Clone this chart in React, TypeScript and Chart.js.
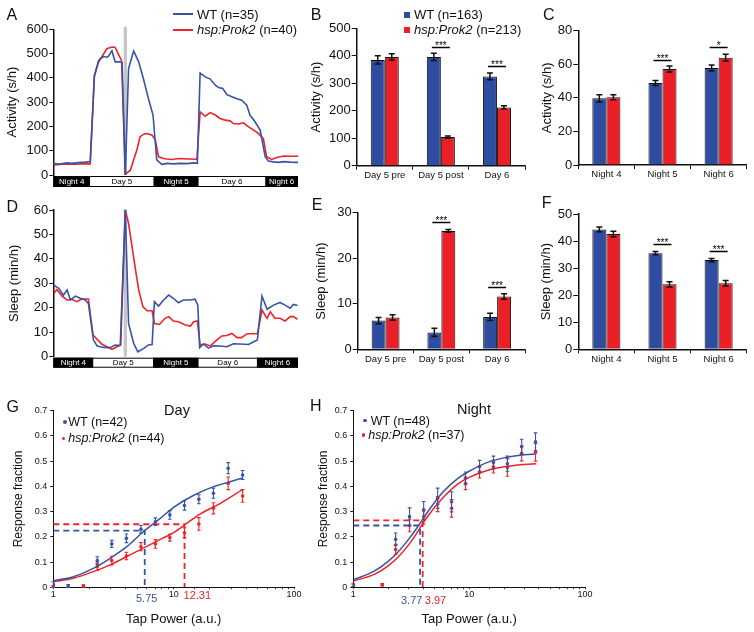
import React, { useEffect, useRef } from 'react';
import { Chart, registerables } from 'chart.js';
Chart.register(...registerables);

const FONT = '"Liberation Sans", Arial, Helvetica, sans-serif';
const BAR_BLUE = '#2F4DA0';
const BAR_RED = '#EA1F27';
const LBLUE = '#3654A6';
const LRED = '#EE2228';
const INK = '#111111';

// ---------------- Panel A: activity trace (x in hours)
const PHASE_NAMES = ['Night 4', 'Day 5', 'Night 5', 'Day 6', 'Night 6'];
const PHASE_DARK = [true, false, true, false, true];
const A_PHASE_EDGES = [0, 8, 21.7, 31.5, 45.9, 53];
const D_PHASE_EDGES = [0, 8.7, 21.6, 31.5, 44.1, 53];
const HEAT_SHOCK = [15.25, 15.95];

const A_WT_T = [0, 1, 2, 3, 4, 5, 6, 7, 8, 8.9, 9.8, 10.2, 10.9, 11.6, 12.0, 12.7, 13.4, 14.4, 14.9, 15.6, 16.3, 17.4, 18.5, 19.6, 20.6, 21.6, 22.4, 23.5, 24.6, 26.0, 27.5, 28.9, 30.4, 31.2, 31.8, 32.9, 34.0, 35.1, 35.8, 36.7, 37.6, 38.7, 39.8, 40.8, 41.9, 42.6, 43.7, 44.8, 45.9, 46.6, 47.7, 48.8, 49.9, 51.3, 53];
const A_WT_V = [48, 45, 47, 50, 48, 50, 52, 53, 55, 410, 470, 480, 488, 485, 490, 512, 466, 466, 462, 0, 438, 511, 466, 390, 315, 247, 62, 44, 48, 46, 48, 47, 50, 48, 420, 404, 395, 370, 360, 356, 331, 322, 314, 308, 288, 247, 219, 185, 75, 58, 54, 52, 55, 53, 52];
const A_HSP_T = [0, 1, 2, 3, 4, 5, 6, 7, 8, 8.9, 9.8, 10.5, 11.6, 12.7, 13.4, 14.1, 14.8, 15.6, 15.8, 16.7, 17.4, 18.1, 18.8, 19.6, 20.3, 21.4, 22.1, 22.8, 23.9, 24.6, 25.7, 26.8, 27.8, 28.9, 30.0, 31.1, 31.8, 32.9, 34.0, 35.1, 36.1, 37.2, 38.3, 39.0, 40.1, 41.2, 42.3, 43.4, 44.4, 45.5, 46.2, 47.3, 48.4, 49.9, 51.3, 53];
const A_HSP_V = [41, 42, 45, 44, 46, 44, 46, 46, 46, 407, 465, 486, 520, 527, 525, 498, 470, 0, 7, 20, 62, 103, 158, 168, 171, 164, 144, 75, 68, 66, 64, 67, 68, 66, 66, 64, 260, 242, 257, 247, 233, 226, 223, 212, 210, 215, 198, 185, 171, 150, 75, 64, 72, 78, 77, 77];

// ---------------- Panel D: sleep trace
const D_WT_T = [0.1, 1.2, 2.2, 3.0, 3.7, 4.8, 5.8, 6.9, 7.6, 8.7, 9.5, 10.9, 12.3, 13.4, 14.5, 15.6, 16.3, 17.4, 18.3, 19.6, 20.6, 21.4, 21.9, 22.8, 23.9, 25.0, 26.0, 27.1, 28.2, 29.7, 30.7, 31.3, 31.7, 32.5, 33.6, 34.7, 36.1, 37.6, 39.0, 40.5, 42.3, 43.4, 44.2, 45.2, 46.3, 47.7, 49.1, 50.2, 51.3, 52.0, 52.9];
const D_WT_V = [29.3, 28, 25.2, 27.3, 23.2, 24.8, 23.9, 23.2, 21.8, 6.8, 4.4, 3.8, 3.7, 4.8, 4.6, 60, 13.6, 5.5, 2, 3.4, 4.8, 5, 22.5, 20.7, 23.2, 25.2, 23.9, 22.1, 23.2, 23.2, 23.5, 21.1, 3.7, 5.2, 3.5, 4.5, 4.4, 4.1, 5.3, 5.2, 5, 6.1, 6.8, 24.8, 19.4, 21.1, 22.2, 21.1, 19.8, 21.4, 20.9];
const D_HSP_T = [0.1, 0.8, 1.9, 3.0, 4.0, 5.1, 6.2, 7.6, 8.6, 9.5, 10.5, 11.6, 12.7, 13.8, 14.6, 15.6, 16.3, 17.0, 17.7, 18.5, 19.4, 20.3, 21.4, 21.9, 23.0, 24.2, 25.0, 26.0, 27.1, 28.6, 29.7, 30.4, 31.2, 31.8, 32.9, 34.0, 35.4, 36.5, 37.6, 38.7, 39.8, 40.8, 41.9, 43.4, 44.2, 45.2, 46.3, 47.0, 48.0, 49.1, 50.2, 51.3, 52.0, 52.9];
const D_HSP_V = [25.9, 27.5, 24.8, 23.2, 23.5, 22.5, 23.6, 23.6, 8.9, 7.1, 5.2, 4.1, 3, 4.1, 4.8, 60, 54.5, 45.7, 36.8, 27.3, 20.5, 18.8, 18.8, 13.6, 13.2, 15.7, 16.4, 14.6, 14.3, 13, 12.5, 14.3, 14.6, 4.8, 5.2, 4.4, 6.8, 8.5, 8.7, 9.5, 7.8, 7.8, 9.3, 9.5, 9.3, 19.1, 15.7, 18.4, 15.7, 15.7, 14.6, 16.4, 16.4, 15.3];

// ---------------- Bar panels
const DAY_CATS = ['Day 5 pre', 'Day 5 post', 'Day 6'];
const NIGHT_CATS = ['Night 4', 'Night 5', 'Night 6'];

const B_WT = [385, 396, 325];
const B_WT_ERR = [15, 13, 12];
const B_HSP = [396, 104, 212];
const B_HSP_ERR = [11, 4, 6];
const B_SIG_AT = [1, 2];
const B_SIG_LEVEL = [433, 364];
const B_SIG_MARK = ['***', '***'];

const C_WT = [39.7, 48.8, 57.8];
const C_WT_ERR = [2.2, 1.5, 1.8];
const C_HSP = [40.3, 57.2, 63.9];
const C_HSP_ERR = [1.5, 1.8, 2.0];
const C_SIG_AT = [1, 2];
const C_SIG_LEVEL = [62.5, 70];
const C_SIG_MARK = ['***', '*'];

const E_WT = [6.3, 3.7, 7.1];
const E_WT_ERR = [0.7, 0.9, 0.8];
const E_HSP = [7.0, 26.0, 11.6];
const E_HSP_ERR = [0.6, 0.3, 0.6];
const E_SIG_AT = [1, 2];
const E_SIG_LEVEL = [27.9, 13.6];
const E_SIG_MARK = ['***', '***'];

const F_WT = [44.3, 35.5, 33.0];
const F_WT_ERR = [0.9, 0.6, 0.6];
const F_HSP = [42.6, 24.0, 24.4];
const F_HSP_ERR = [1.0, 1.0, 1.0];
const F_SIG_AT = [1, 2];
const F_SIG_LEVEL = [38.9, 36.3];
const F_SIG_MARK = ['***', '***'];

// ---------------- Dose-response panels (tap power, a.u.)
const TAP = [1, 1.33, 1.78, 2.32, 3.06, 4.05, 5.35, 7.05, 9.3, 12.3, 16.2, 21.4, 28.4, 37.4];

const G_WT = [0.012, 0.005, null, 0.106, 0.172, 0.194, 0.23, 0.26, 0.287, 0.324, 0.349, 0.373, 0.472, 0.445];
const G_WT_ERR = [0.01, 0.006, null, 0.015, 0.014, 0.017, 0.015, 0.015, 0.017, 0.018, 0.018, 0.02, 0.022, 0.018];
const G_HSP = [0.003, null, 0.005, 0.082, 0.106, 0.124, 0.161, 0.172, 0.197, 0.216, 0.251, 0.313, 0.412, 0.362];
const G_HSP_ERR = [0.004, null, 0.005, 0.015, 0.017, 0.015, 0.016, 0.017, 0.014, 0.02, 0.025, 0.022, 0.025, 0.025];
const G_WT_FIT_X = [1, 1.47, 2.15, 2.97, 4.08, 5.62, 7.74, 10, 14.7, 21.5, 37];
const G_WT_FIT_Y = [0.026, 0.042, 0.075, 0.115, 0.161, 0.221, 0.273, 0.317, 0.365, 0.399, 0.432];
const G_HSP_FIT_X = [1, 1.47, 2.15, 2.97, 4.08, 5.62, 7.74, 10, 12.9, 16.7, 24.5, 37];
const G_HSP_FIT_Y = [0.022, 0.036, 0.062, 0.089, 0.122, 0.155, 0.19, 0.217, 0.254, 0.291, 0.333, 0.386];
const G_EC = [5.75, 12.31];
const G_EC_LEVEL = [0.225, 0.25];

const H_WT = [0.008, null, null, 0.19, 0.28, 0.305, 0.353, 0.339, 0.432, 0.478, 0.495, 0.49, 0.557, 0.577];
const H_WT_ERR = [0.005, null, null, 0.025, 0.035, 0.035, 0.04, 0.04, 0.025, 0.025, 0.025, 0.03, 0.03, 0.035];
const H_HSP = [0.009, null, 0.01, 0.15, 0.245, 0.28, 0.33, 0.313, 0.412, 0.458, 0.478, 0.475, 0.531, 0.535];
const H_HSP_ERR = [0.005, null, 0.005, 0.02, 0.025, 0.03, 0.03, 0.035, 0.025, 0.025, 0.025, 0.035, 0.03, 0.035];
const H_FIT_X = [1, 1.5, 2, 2.5, 3, 3.5, 4, 5, 6, 8, 10, 15, 20, 30, 38];
const H_WT_FIT_Y = [0.03, 0.063, 0.103, 0.146, 0.19, 0.232, 0.272, 0.335, 0.38, 0.432, 0.46, 0.498, 0.513, 0.525, 0.529];
const H_HSP_FIT_Y = [0.025, 0.05, 0.085, 0.125, 0.168, 0.212, 0.255, 0.315, 0.357, 0.41, 0.436, 0.466, 0.478, 0.487, 0.49];
const H_EC = [3.77, 3.97];
const H_EC_LEVEL = [0.245, 0.265];

// ---------------- layout boxes (canvas box + desired plot area, page px)
type Box = { x0: number; y0: number; x1: number; y1: number; L: number; T: number; R: number; B: number };
const BOX_A: Box = { x0: 5, y0: 15, x1: 303, y1: 192, L: 53.3, T: 29.3, R: 298, B: 175 };
const BOX_D: Box = { x0: 7, y0: 196, x1: 303, y1: 372, L: 53.3, T: 210, R: 298, B: 356.7 };
const BOX_B: Box = { x0: 309, y0: 14, x1: 530, y1: 182, L: 356.7, T: 28.3, R: 525, B: 165.7 };
const BOX_C: Box = { x0: 540, y0: 16, x1: 752, y1: 182, L: 578.3, T: 30.7, R: 746.7, B: 165 };
const BOX_E: Box = { x0: 314, y0: 198, x1: 530, y1: 366, L: 357.7, T: 212.7, R: 525, B: 349.3 };
const BOX_F: Box = { x0: 539, y0: 199, x1: 752, y1: 366, L: 578.3, T: 214, R: 746.7, B: 349.3 };
const BOX_G: Box = { x0: 11, y0: 398, x1: 302, y1: 627, L: 53.3, T: 410.7, R: 294, B: 587.3 };
const BOX_H: Box = { x0: 316, y0: 398, x1: 595, y1: 627, L: 353.3, T: 410.7, R: 585, B: 587.3 };
const BOXES = [BOX_A, BOX_B, BOX_C, BOX_D, BOX_E, BOX_F, BOX_G, BOX_H];

const layoutFor = (b: Box, xShown: boolean) => ({
  padding: { left: 0, top: b.T - b.y0, right: b.x1 - b.R, bottom: xShown ? 0 : b.y1 - b.B },
});
const fixW = (w: number) => (s: any) => { s.width = w; };
const fixH = (h: number) => (s: any) => { s.height = h; };

// ---------------- plugins
const phasePlugin = {
  id: 'phase',
  afterDraw(chart: any, _a: any, o: any) {
    if (!o || !o.edges) return;
    const { ctx, chartArea } = chart;
    const xs = chart.scales.x;
    const top = chartArea.bottom + o.gap;
    const h = o.height;
    const xa = xs.getPixelForValue(o.edges[0]);
    const xb = xs.getPixelForValue(o.edges[o.edges.length - 1]);
    ctx.save();
    for (let i = 0; i < o.names.length; i++) {
      const x1 = xs.getPixelForValue(o.edges[i]);
      const x2 = xs.getPixelForValue(o.edges[i + 1]);
      const dark = o.dark[i];
      ctx.fillStyle = dark ? '#000' : '#fff';
      ctx.fillRect(x1, top, x2 - x1, h);
      ctx.fillStyle = dark ? '#fff' : '#000';
      ctx.font = `8px ${FONT}`;
      ctx.textAlign = 'center';
      ctx.textBaseline = 'middle';
      ctx.fillText(o.names[i], (x1 + x2) / 2, top + h / 2 + 0.5);
    }
    ctx.strokeStyle = '#000';
    ctx.lineWidth = 1;
    ctx.strokeRect(xa + 0.5, top + 0.5, xb - xa - 1, h - 1);
    ctx.restore();
  },
};

const shockPlugin = {
  id: 'shock',
  beforeDatasetsDraw(chart: any, _a: any, o: any) {
    if (!o || o.from == null) return;
    const { ctx, chartArea } = chart;
    const xs = chart.scales.x;
    const x1 = xs.getPixelForValue(o.from);
    const x2 = xs.getPixelForValue(o.to);
    ctx.save();
    ctx.fillStyle = '#c6c6c6';
    ctx.fillRect(x1, chartArea.top - o.extra, x2 - x1, chartArea.bottom - chartArea.top + o.extra);
    ctx.restore();
  },
};

const errPlugin = {
  id: 'errbars',
  afterDatasetsDraw(chart: any) {
    const { ctx } = chart;
    chart.data.datasets.forEach((ds: any, di: number) => {
      if (!ds.errors) return;
      const meta = chart.getDatasetMeta(di);
      const ys = chart.scales[meta.yAxisID];
      ctx.save();
      ctx.strokeStyle = ds.errColor || '#000';
      ctx.lineWidth = ds.errWidth || 1.5;
      const cap = ds.errCap || 3;
      meta.data.forEach((el: any, i: number) => {
        const e = ds.errors[i];
        if (e == null) return;
        const raw = ds.data[i];
        const v = typeof raw === 'object' ? raw.y : raw;
        const x = el.x;
        const yt = ys.getPixelForValue(v + e);
        const yb = ys.getPixelForValue(v - e);
        ctx.beginPath();
        ctx.moveTo(x, yt);
        ctx.lineTo(x, yb);
        ctx.moveTo(x - cap, yt);
        ctx.lineTo(x + cap, yt);
        ctx.moveTo(x - cap, yb);
        ctx.lineTo(x + cap, yb);
        ctx.stroke();
      });
      ctx.restore();
    });
  },
};

const sigPlugin = {
  id: 'sig',
  afterDatasetsDraw(chart: any, _a: any, o: any) {
    if (!o || !o.at) return;
    const { ctx } = chart;
    const ys = chart.scales.y;
    const m0 = chart.getDatasetMeta(0);
    const m1 = chart.getDatasetMeta(1);
    ctx.save();
    for (let k = 0; k < o.at.length; k++) {
      const i = o.at[k];
      const xa = m0.data[i].x - 2;
      const xb = m1.data[i].x + 2;
      const y = Math.round(ys.getPixelForValue(o.level[k])) + 0.5;
      ctx.beginPath();
      ctx.moveTo(xa, y);
      ctx.lineTo(xb, y);
      ctx.lineWidth = 1.5;
      ctx.strokeStyle = '#000';
      ctx.stroke();
      ctx.font = `10px ${FONT}`;
      ctx.fillStyle = '#000';
      ctx.textAlign = 'center';
      ctx.textBaseline = 'alphabetic';
      ctx.fillText(o.marks[k], (xa + xb) / 2, y + 1);
    }
    ctx.restore();
  },
};

// ---------------- chart configs
const pts = (xs: number[], ys: number[]) => xs.map((x, i) => ({ x, y: ys[i] }));

function traceConfig(b: Box, wtT: number[], wtV: number[], hsT: number[], hsV: number[], yMax: number, yStep: number, yTitle: string, edges: number[], barH: number, extra: number) {
  return {
    type: 'line',
    data: {
      datasets: [
        { data: pts(wtT, wtV), borderColor: LBLUE, borderWidth: 1.6, pointRadius: 0, tension: 0 },
        { data: pts(hsT, hsV), borderColor: LRED, borderWidth: 1.6, pointRadius: 0, tension: 0 },
      ],
    },
    options: {
      responsive: false,
      animation: false,
      layout: layoutFor(b, false),
      plugins: {
        legend: { display: false },
        tooltip: { enabled: false },
        phase: { edges, names: PHASE_NAMES, dark: PHASE_DARK, gap: 1, height: barH },
        shock: { from: HEAT_SHOCK[0], to: HEAT_SHOCK[1], extra },
      },
      scales: {
        x: { type: 'linear', min: 0, max: 53, display: false },
        y: {
          min: 0, max: yMax,
          grid: { display: true, drawOnChartArea: false, tickLength: 4, color: INK, lineWidth: 1 },
          border: { display: true, color: INK, width: 1.5 },
          ticks: { stepSize: yStep, font: { family: FONT, size: 13 }, color: INK, padding: 1 },
          title: { display: true, text: yTitle, font: { family: FONT, size: 13 }, color: INK, padding: 0 },
          afterFit: fixW(b.L - b.x0),
        },
      },
    },
    plugins: [phasePlugin, shockPlugin],
  };
}

function barConfig(b: Box, cats: string[], wt: number[], wtErr: number[], hs: number[], hsErr: number[], yMax: number, yStep: number, yTitle: string, at: number[], level: number[], marks: string[]) {
  return {
    type: 'bar',
    data: {
      labels: cats,
      datasets: [
        { data: wt, backgroundColor: BAR_BLUE, borderColor: INK, borderWidth: 1, errors: wtErr, errColor: INK, errWidth: 1.5, errCap: 3 },
        { data: hs, backgroundColor: BAR_RED, borderColor: INK, borderWidth: 1, errors: hsErr, errColor: INK, errWidth: 1.5, errCap: 3 },
      ],
    },
    options: {
      responsive: false,
      animation: false,
      layout: layoutFor(b, true),
      datasets: { bar: { categoryPercentage: 0.5, barPercentage: 1 } },
      plugins: {
        legend: { display: false },
        tooltip: { enabled: false },
        sig: { at, level, marks },
      },
      scales: {
        x: {
          grid: { display: true, drawOnChartArea: false, drawTicks: true, tickLength: 4, color: INK, lineWidth: 1, offset: true },
          border: { display: true, color: INK, width: 1.5 },
          ticks: { font: { family: FONT, size: 9.5 }, color: INK, padding: 0, maxRotation: 0 },
          afterFit: fixH(b.y1 - b.B),
        },
        y: {
          min: 0, max: yMax,
          grid: { display: true, drawOnChartArea: false, tickLength: 5, color: INK, lineWidth: 1 },
          border: { display: true, color: INK, width: 1.5 },
          ticks: { stepSize: yStep, font: { family: FONT, size: 13 }, color: INK, padding: 1 },
          title: { display: true, text: yTitle, font: { family: FONT, size: 13 }, color: INK, padding: 0 },
          afterFit: fixW(b.L - b.x0),
        },
      },
    },
    plugins: [errPlugin, sigPlugin],
  };
}

function pointSet(vals: (number | null)[], errs: (number | null)[], color: string) {
  const keep = TAP.map((x, i) => i).filter((i) => vals[i] != null);
  return {
    data: keep.map((i) => ({ x: TAP[i], y: vals[i] as number })),
    errors: keep.map((i) => errs[i]),
    showLine: false,
    pointRadius: 1.8,
    pointBackgroundColor: color,
    pointBorderWidth: 0,
    borderColor: color,
    errColor: color,
    errWidth: 1.1,
    errCap: 1.8,
  };
}

function doseConfig(b: Box, wtVals: any[], wtErr: any[], hsVals: any[], hsErr: any[], wtFitX: number[], wtFitY: number[], hsFitX: number[], hsFitY: number[], ec: number[], ecLevel: number[]) {
  const dashed = (k: number, color: string) => ({
    data: [{ x: 1, y: ecLevel[k] }, { x: ec[k], y: ecLevel[k] }, { x: ec[k], y: 0 }],
    borderColor: color, borderWidth: 1.8, borderDash: [6, 4], pointRadius: 0, tension: 0,
  });
  return {
    type: 'line',
    data: {
      datasets: [
        dashed(0, LBLUE),
        dashed(1, LRED),
        { data: pts(wtFitX, wtFitY), borderColor: LBLUE, borderWidth: 1.5, pointRadius: 0, cubicInterpolationMode: 'monotone' },
        { data: pts(hsFitX, hsFitY), borderColor: LRED, borderWidth: 1.5, pointRadius: 0, cubicInterpolationMode: 'monotone' },
        pointSet(hsVals, hsErr, LRED),
        pointSet(wtVals, wtErr, LBLUE),
      ],
    },
    options: {
      responsive: false,
      animation: false,
      layout: layoutFor(b, true),
      plugins: { legend: { display: false }, tooltip: { enabled: false } },
      scales: {
        x: {
          type: 'logarithmic', min: 1, max: 100,
          grid: { display: true, drawOnChartArea: false, tickLength: 2, color: '#444', lineWidth: 1 },
          border: { display: true, color: INK, width: 1 },
          ticks: {
            autoSkip: false, maxRotation: 0, padding: 0, font: { family: FONT, size: 9 }, color: INK,
            callback: (v: any) => ([1, 10, 100].includes(Number(v)) ? String(v) : ''),
          },
          title: { display: true, text: 'Tap Power (a.u.)', font: { family: FONT, size: 13 }, color: INK, padding: 0 },
          afterFit: fixH(b.y1 - b.B),
        },
        y: {
          min: 0, max: 0.7,
          grid: { display: true, drawOnChartArea: false, tickLength: 3, color: INK, lineWidth: 1 },
          border: { display: true, color: INK, width: 1 },
          ticks: { stepSize: 0.1, padding: 3, font: { family: FONT, size: 9 }, color: INK, callback: (v: any) => (Number(v) === 0 ? '0' : Number(v).toFixed(1)) },
          title: { display: true, text: 'Response fraction', font: { family: FONT, size: 12 }, color: INK, padding: 0 },
          afterFit: fixW(b.L - b.x0),
        },
      },
    },
    plugins: [errPlugin],
  };
}

// ---------------- HTML text helpers
const Txt = ({ x, cy, size, color = INK, center = false, children }: any) => (
  <div
    style={{
      position: 'absolute', left: x, top: cy - size * 0.49, fontFamily: FONT, fontSize: size,
      lineHeight: `${size}px`, color, whiteSpace: 'nowrap', transform: center ? 'translateX(-50%)' : undefined,
    }}
  >
    {children}
  </div>
);
const Hsp = () => <i>hsp:Prok2</i>;

export default function App() {
  const refs = useRef<(HTMLCanvasElement | null)[]>([]);
  useEffect(() => {
    const cfgs: any[] = [
      traceConfig(BOX_A, A_WT_T, A_WT_V, A_HSP_T, A_HSP_V, 600, 100, 'Activity (s/h)', A_PHASE_EDGES, 11, 2.6),
      barConfig(BOX_B, DAY_CATS, B_WT, B_WT_ERR, B_HSP, B_HSP_ERR, 500, 100, 'Activity (s/h)', B_SIG_AT, B_SIG_LEVEL, B_SIG_MARK),
      barConfig(BOX_C, NIGHT_CATS, C_WT, C_WT_ERR, C_HSP, C_HSP_ERR, 80, 20, 'Activity (s/h)', C_SIG_AT, C_SIG_LEVEL, C_SIG_MARK),
      traceConfig(BOX_D, D_WT_T, D_WT_V, D_HSP_T, D_HSP_V, 60, 10, 'Sleep (min/h)', D_PHASE_EDGES, 10, 1),
      barConfig(BOX_E, DAY_CATS, E_WT, E_WT_ERR, E_HSP, E_HSP_ERR, 30, 10, 'Sleep (min/h)', E_SIG_AT, E_SIG_LEVEL, E_SIG_MARK),
      barConfig(BOX_F, NIGHT_CATS, F_WT, F_WT_ERR, F_HSP, F_HSP_ERR, 50, 10, 'Sleep (min/h)', F_SIG_AT, F_SIG_LEVEL, F_SIG_MARK),
      doseConfig(BOX_G, G_WT, G_WT_ERR, G_HSP, G_HSP_ERR, G_WT_FIT_X, G_WT_FIT_Y, G_HSP_FIT_X, G_HSP_FIT_Y, G_EC, G_EC_LEVEL),
      doseConfig(BOX_H, H_WT, H_WT_ERR, H_HSP, H_HSP_ERR, H_FIT_X, H_WT_FIT_Y, H_FIT_X, H_HSP_FIT_Y, H_EC, H_EC_LEVEL),
    ];
    const charts = cfgs.map((c, i) => new Chart(refs.current[i] as HTMLCanvasElement, c));
    return () => charts.forEach((c) => c.destroy());
  }, []);

  return (
    <div style={{ position: 'absolute', left: 0, top: 0, width: 754, height: 632, background: '#fff', overflow: 'hidden' }}>
      {BOXES.map((b, i) => (
        <canvas
          key={i}
          ref={(el) => { refs.current[i] = el; }}
          width={b.x1 - b.x0}
          height={b.y1 - b.y0}
          style={{ position: 'absolute', left: b.x0, top: b.y0, width: b.x1 - b.x0, height: b.y1 - b.y0 }}
        />
      ))}

      {/* panel letters */}
      <Txt x={6.5} cy={15.3} size={16}>A</Txt>
      <Txt x={310.7} cy={14.7} size={16}>B</Txt>
      <Txt x={543} cy={15} size={16}>C</Txt>
      <Txt x={6.5} cy={206.7} size={16}>D</Txt>
      <Txt x={311.7} cy={205.3} size={16}>E</Txt>
      <Txt x={541.7} cy={202.8} size={16}>F</Txt>
      <Txt x={6.5} cy={406.7} size={16}>G</Txt>
      <Txt x={310} cy={405.7} size={16}>H</Txt>

      {/* legend A */}
      <div style={{ position: 'absolute', left: 173, top: 13, width: 20, height: 2, background: LBLUE }} />
      <div style={{ position: 'absolute', left: 173, top: 28.5, width: 20, height: 2, background: LRED }} />
      <Txt x={197} cy={14} size={13}>WT (n=35)</Txt>
      <Txt x={197} cy={29.5} size={13}><Hsp /> (n=40)</Txt>

      {/* legend B */}
      <div style={{ position: 'absolute', left: 404.3, top: 11.5, width: 6, height: 6, background: BAR_BLUE }} />
      <div style={{ position: 'absolute', left: 404.3, top: 26.5, width: 6, height: 6, background: BAR_RED }} />
      <Txt x={414} cy={14.5} size={13}>WT (n=163)</Txt>
      <Txt x={414} cy={29.5} size={13}><Hsp /> (n=213)</Txt>

      {/* legend G */}
      <div style={{ position: 'absolute', left: 63.2, top: 420.2, width: 3.6, height: 3.6, borderRadius: 2, background: LBLUE }} />
      <div style={{ position: 'absolute', left: 61.5, top: 436.5, width: 3.6, height: 3.6, borderRadius: 2, background: LRED }} />
      <Txt x={68.3} cy={422.3} size={12.5}>WT (n=42)</Txt>
      <Txt x={68.3} cy={438.3} size={12.5}><Hsp /> (n=44)</Txt>
      <Txt x={177} cy={410.3} size={14.5} center>Day</Txt>
      <Txt x={146.7} cy={598.3} size={11} color={LBLUE} center>5.75</Txt>
      <Txt x={197.3} cy={595.7} size={11} color={LRED} center>12.31</Txt>

      {/* legend H */}
      <div style={{ position: 'absolute', left: 363.2, top: 418.9, width: 3.6, height: 3.6, borderRadius: 2, background: LBLUE }} />
      <div style={{ position: 'absolute', left: 361.5, top: 433.2, width: 3.6, height: 3.6, borderRadius: 2, background: LRED }} />
      <Txt x={370.7} cy={420.7} size={12.5}>WT (n=48)</Txt>
      <Txt x={368.3} cy={435} size={12.5}><Hsp /> (n=37)</Txt>
      <Txt x={474} cy={409.5} size={14.5} center>Night</Txt>
      <Txt x={411.7} cy={600.7} size={11} color={LBLUE} center>3.77</Txt>
      <Txt x={435.5} cy={600.7} size={11} color={LRED} center>3.97</Txt>
    </div>
  );
}
